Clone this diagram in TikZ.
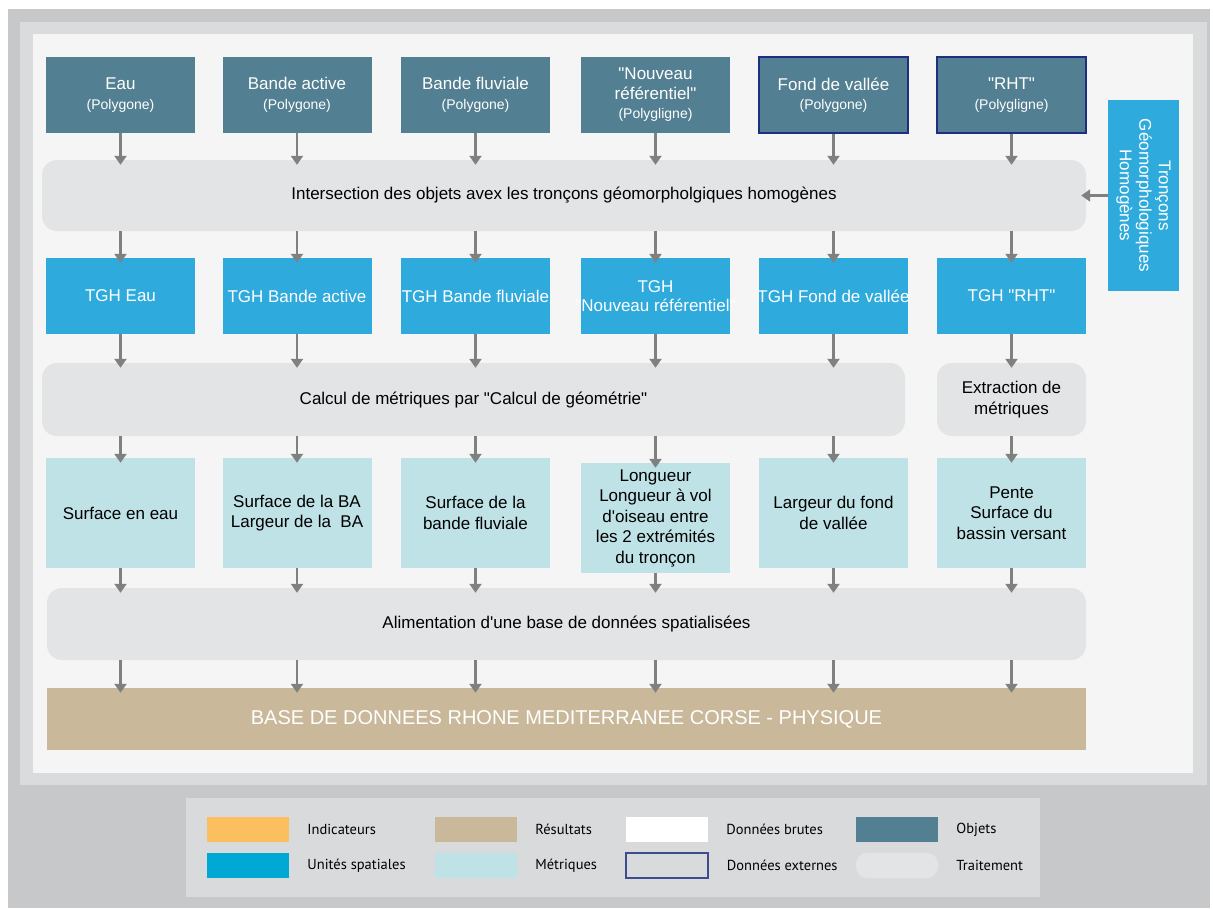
\documentclass[tikz,border=0pt]{standalone}
\usepackage{fontspec}
\setmainfont{Liberation Sans}[Ligatures=TeXOff]
\newfontfamily\legfont{PT Sans}
\usepackage{xcolor}
\usetikzlibrary{arrows.meta,positioning}
\definecolor{objc}{HTML}{527F91}
\definecolor{extc}{HTML}{1F2E80}
\definecolor{tghc}{HTML}{2EAADD}
\definecolor{metc}{HTML}{BFE2E6}
\definecolor{procc}{HTML}{E3E4E6}
\definecolor{resc}{HTML}{C9B99A}
\definecolor{indc}{HTML}{FBBF5F}
\definecolor{unic}{HTML}{00A9D4}
\definecolor{arrc}{HTML}{808080}
\definecolor{framec}{HTML}{C7C8CA}
\definecolor{panelc}{HTML}{DADBDD}
\definecolor{innerc}{HTML}{F5F5F5}
\definecolor{legc}{HTML}{D9DADC}
\definecolor{extlegc}{HTML}{3D4B8F}
\newcommand{\subtxt}[1]{{\fontsize{14}{17}\selectfont #1}}
\newcommand{\tight}[1]{\makebox[140pt][c]{#1}}

\begin{document}
\begin{tikzpicture}[
  x=1pt,y=-1pt,
  obj/.style={rectangle,fill=objc,text=white,align=center,minimum width=149pt,minimum height=76pt,inner sep=0pt,font=\fontsize{17}{19.5}\selectfont},
  objext/.style={obj,draw=extc,line width=2pt},
  tgh/.style={obj,fill=tghc},
  met/.style={rectangle,fill=metc,align=center,minimum width=149pt,minimum height=110pt,inner sep=0pt,font=\fontsize{17}{20.5}\selectfont},
  proc/.style={rectangle,fill=procc,rounded corners=15pt,align=center,minimum height=72pt,inner sep=0pt,font=\fontsize{17}{20.5}\selectfont},
  arr/.style={-{Triangle[width=12pt,length=9pt]},arrc,line width=2.3pt,shorten >=-5pt},
  swatch/.style={minimum width=82pt,minimum height=25pt,inner sep=0pt},
  leg/.style={font=\legfont\fontsize{14.5}{16}\selectfont,inner sep=0pt}
]
\useasboundingbox (0,0) rectangle (1213,908);
% fond
\fill[framec] (8,9) rectangle (1210,908);
\fill[panelc] (20,22) rectangle (1207,785);
\fill[innerc] (33,34) rectangle (1193,773);
\fill[legc] (186,798) rectangle (1040,897);

% objets
\node[obj] (o1) at (120.5,95) {Eau\\\subtxt{(Polygone)}};
\node[obj] (o2) at (297,95) {Bande active\\\subtxt{(Polygone)}};
\node[obj] (o3) at (475.5,95) {Bande fluviale\\\subtxt{(Polygone)}};
\node[obj] (o4) at (655.5,95) {"Nouveau\\référentiel"\\\subtxt{(Polygligne)}};
\node[objext] (o5) at (833.5,95) {Fond de vallée\\\subtxt{(Polygone)}};
\node[objext] (o6) at (1011.5,95) {"RHT"\\\subtxt{(Polygligne)}};

\node[proc,minimum width=1044pt,minimum height=71pt] (inter) at (564,195.5) {Intersection des objets avex les tronçons géomorpholgiques homogènes};
\node[tgh,rotate=-90,minimum width=191pt,minimum height=71pt] (trc) at (1143.5,195.5) {Tronçons\\Géomorphologiques\\Homogènes};

% unites spatiales
\node[tgh] (t1) at (120.5,296) {TGH Eau};
\node[tgh] (t2) at (297,296) {\tight{TGH Bande active}};
\node[tgh] (t3) at (475.5,296) {\tight{TGH Bande fluviale}};
\node[tgh] (t4) at (655.5,296) {TGH\\\tight{"Nouveau référentiel"}};
\node[tgh] (t5) at (833.5,296) {\tight{TGH Fond de vallée}};
\node[tgh] (t6) at (1011.5,296) {TGH "RHT"};

\node[proc,minimum width=863pt,minimum height=73pt] (calc) at (473.5,399.5) {Calcul de métriques par "Calcul de géométrie"};
\node[proc,minimum width=149pt,minimum height=73pt] (extr) at (1011.5,399.5) {Extraction de\\métriques};

% metriques
\node[met] (m1) at (120.5,513) {Surface en eau};
\node[met] (m2) at (297,513) {Surface de la BA\\Largeur de la~~BA};
\node[met] (m3) at (475.5,513) {Surface de la\\bande fluviale};
\node[met] (m4) at (655.5,518) {Longueur\\Longueur à vol\\d'oiseau entre\\les 2 extrémités\\du tronçon};
\node[met] (m5) at (833.5,513) {Largeur du fond\\de vallée};
\node[met] (m6) at (1011.5,513) {Pente\\Surface du\\bassin versant};

\node[proc,minimum width=1039pt] (alim) at (566.5,624) {Alimentation d'une base de données spatialisées};
\node[rectangle,fill=resc,text=white,minimum width=1039pt,minimum height=62pt,font=\fontsize{20}{23}\selectfont] (base) at (566.5,719) {BASE DE DONNEES RHONE MEDITERRANEE CORSE - PHYSIQUE};

% fleches
\foreach \i in {1,...,6} {
  \draw[arr] (o\i.south) -- (o\i.south |- inter.north);
  \draw[arr] (inter.south -| t\i.north) -- (t\i.north);
  \draw[arr] (m\i.south) -- (m\i.south |- alim.north);
  \draw[arr] (alim.south -| m\i.south) -- (base.north -| m\i.south);
}
\foreach \i in {1,...,5} {
  \draw[arr] (t\i.south) -- (t\i.south |- calc.north);
  \draw[arr] (calc.south -| m\i.north) -- (m\i.north);
}
\draw[arr] (t6.south) -- (extr.north);
\draw[arr] (extr.south) -- (m6.north);
\draw[arr] (trc.south) -- (inter.east);

% legende
\node[swatch,fill=indc] (s1) at (248,829.5) {};
\node[swatch,fill=unic] (s2) at (248,865.5) {};
\node[swatch,fill=resc] (s3) at (476,829.5) {};
\node[swatch,fill=metc] (s4) at (476,865.5) {};
\node[swatch,fill=white] (s5) at (667,829.5) {};
\node[swatch,draw=extlegc,line width=1.5pt] (s6) at (667,865.5) {};
\node[swatch,fill=objc] (s7) at (897,829.5) {};
\node[swatch,fill=procc,rounded corners=11pt] (s8) at (897,865.5) {};
\node[leg,right=18pt of s1] (l1) {Indicateurs};
\node[leg,right=18pt of s2] (l2) {Unités spatiales};
\node[leg,right=18pt of s3] (l3) {Résultats};
\node[leg,right=18pt of s4] (l4) {Métriques};
\node[leg,right=18pt of s5] (l5) {Données brutes};
\node[leg,right=18pt of s6] (l6) {Données externes};
\node[leg,right=18pt of s7] (l7) {Objets};
\node[leg,right=18pt of s8] (l8) {Traitement};
\end{tikzpicture}
\end{document}
